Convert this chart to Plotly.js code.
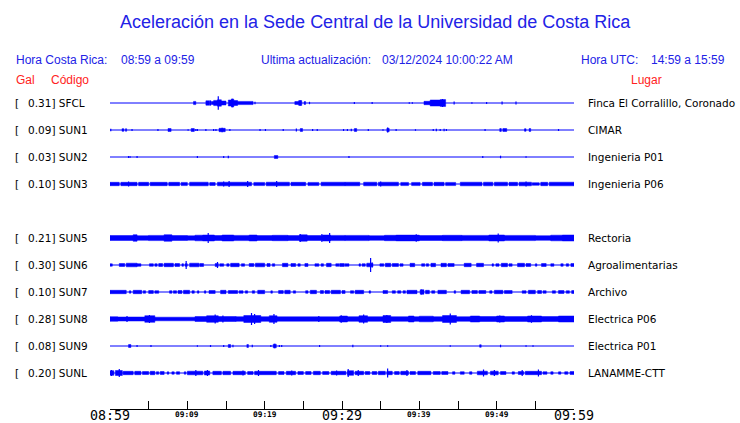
<!DOCTYPE html>
<html>
<head>
<meta charset="utf-8">
<script src="https://cdn.plot.ly/plotly-3.0.1.min.js"></script>
<style>html,body{margin:0;padding:0;background:#fff;}#chart{width:740px;height:423px;}</style>
</head>
<body>
<div id="chart"></div>
<script>
// ---------- data ----------
const STATIONS = ['SFCL','SUN1','SUN2','SUN3','SUN5','SUN6','SUN7','SUN8','SUN9','SUNL'];
const ROWS     = [0,1,2,3,5,6,7,8,9,10];
const GAL      = ['0.31','0.09','0.03','0.10','0.21','0.30','0.10','0.28','0.08','0.20'];
const PLACES   = ['Finca El Corralillo, Coronado','CIMAR','Ingenieria P01','Ingenieria P06','Rectoria',
                  'Agroalimentarias','Archivo','Electrica P06','Electrica P01','LANAMME-CTT'];
const TICK_MIN  = [0,5,10,15,20,25,30,35,40,45,50,55,60];
const TICK_TEXT = ['08:59','','09:09','','09:19','','09:29','','09:39','','09:49','','09:59'];
const TICK_MAJOR = ['08:59','09:29','09:59'];

// blocks: [start minute, end minute, half amplitude]; spikes: [minute, half amplitude]
const SFCL_BLOCKS = [[10.8,11.1,1.6],[12.4,12.9,2.2],[13.1,13.4,1.5],[13.4,13.9,2.6],[13.9,14.4,3.2],[14.4,15.0,2.0],[15.3,15.7,3.0],[15.7,16.0,4.0],[16.0,16.5,2.5],[16.5,18.5,1.6],[23.9,24.4,1.5],[24.4,24.8,2.4],[25.1,25.3,1.4],[40.6,41.4,1.7],[41.4,42.7,3.0],[42.7,43.4,3.4]];
const SFCL_SPIKES = [[14.0,6.7],[13.0,2.6],[15.8,4.2],[18.75,1.3],[24.6,2.6],[25.8,1.2],[31.6,1.0],[33.9,1.0],[38.7,0.8],[39.1,0.8],[43.0,4.0],[44.5,1.4],[46.8,0.8],[48.7,1.0],[50.7,1.4],[52.5,1.4]];

const SUN1_BLOCKS = [[1.55,1.8,1.3],[2.0,2.15,1.3],[7.5,7.9,1.5],[10.5,10.9,1.5],[14.1,14.9,1.7],[24.6,24.9,1.5],[31.6,31.9,1.5],[35.8,36.1,1.7],[50.4,50.6,1.5],[50.8,51.3,1.5],[53.6,53.8,1.3],[54.2,54.4,1.5]];
const SUN1_SPIKES = [[0.1,1.3],[2.85,1.0],[6.2,1.0],[10.1,0.8],[11.1,1.0],[11.3,1.0],[12.4,1.0],[13.4,1.0],[13.7,1.0],[14.5,2.3],[15.5,1.0],[19.4,1.0],[20.1,1.0],[22.4,1.0],[24.1,1.5],[26.2,1.0],[26.8,1.0],[30.2,1.0],[30.7,1.0],[31.2,1.3],[33.4,1.0],[35.3,0.8],[35.9,2.4],[37.0,1.0],[39.5,0.8],[41.8,1.0],[42.2,1.3],[42.7,1.0],[43.2,1.3],[43.5,1.0],[48.5,1.0],[58.0,1.0]];

const SUN2_BLOCKS = [[21.25,21.7,1.5]];
const SUN2_SPIKES = [[2.4,1.0],[2.6,0.7],[3.5,1.0],[11.3,1.0],[14.7,1.0],[15.3,1.3],[30.9,1.0],[48.2,1.0],[50.5,1.3],[53.8,0.8]];

const SUN3_BLOCKS = [[0,1.2,1.7],[1.4,3.5,1.7],[3.7,5.0,1.7],[5.2,7.4,1.7],[7.6,9.0,1.7],[9.2,10.0,1.6],[10.3,12.7,1.8],[12.9,13.6,1.5],[13.9,18.3,1.8],[18.6,20.0,1.6],[20.2,23.2,1.8],[23.4,25.3,1.7],[25.6,27.0,1.6],[27.3,30.4,1.8],[30.4,32.3,1.8],[32.8,34.5,1.8],[34.7,37.3,1.8],[37.6,38.6,1.6],[39.0,40.1,1.6],[40.4,41.7,1.7],[41.9,43.2,1.7],[43.4,44.7,1.6],[45.3,48.1,1.8],[48.3,49.5,1.8],[49.7,51.4,1.8],[51.6,52.7,1.7],[52.9,54.5,1.8],[54.6,55.5,1.3],[55.7,56.6,1.7],[56.8,60,1.8]];
const SUN3_SPIKES = [[2.4,2.5],[14.7,2.5],[15.4,3.0],[17.8,3.0],[21.55,3.0],[35.0,2.5],[53.8,2.5]];

const SUN5_BLOCKS = [[0,3.0,2.5],[3.0,3.5,3.3],[3.5,5.0,2.3],[5.0,7.0,2.6],[7.0,8.0,3.3],[8.0,10.0,2.5],[10.0,11.0,2.2],[11.0,12.0,2.8],[12.0,13.5,3.0],[13.5,14.5,2.5],[14.5,16.0,3.0],[16.0,18.0,2.6],[18.0,19.0,3.0],[19.0,21.0,2.4],[21.0,23.0,2.7],[23.0,24.5,2.4],[24.5,25.5,3.2],[25.5,27.5,2.5],[27.5,28.5,3.0],[28.5,30.4,2.6],[30.4,33.5,2.6],[33.5,35.5,2.3],[35.5,37.0,2.7],[37.0,40.0,2.9],[40.0,43.0,2.5],[43.0,45.5,2.7],[45.5,49.0,2.6],[49.0,51.0,3.0],[51.0,55.0,2.6],[55.0,57.0,2.3],[57.0,58.5,2.8],[58.5,60,3.0]];
const SUN5_SPIKES = [[12.7,5.0],[24.6,4.0],[27.4,4.0],[28.4,5.0],[39.6,3.7],[50.2,4.5]];

const SUN6_BLOCKS = [[0,0.3,1.2],[1.2,1.9,1.5],[2.1,3.5,1.8],[3.5,4.0,1.3],[5.1,5.6,1.3],[5.8,6.1,1.3],[6.3,6.8,1.5],[7.0,8.2,1.7],[8.4,9.0,1.5],[9.3,9.5,1.3],[9.7,10.0,1.3],[10.3,11.5,1.8],[11.6,12.1,1.5],[13.6,14.0,1.5],[14.2,14.7,1.3],[15.1,15.4,1.3],[15.6,16.7,1.7],[17.0,17.4,1.3],[18.0,18.6,1.5],[18.8,20.0,1.8],[20.3,20.7,1.5],[21.0,21.3,1.3],[22.3,23.0,1.7],[23.4,24.0,1.5],[24.3,24.6,1.3],[25.2,25.6,1.5],[26.5,27.0,1.3],[27.3,27.6,1.3],[28.0,28.6,1.7],[29.2,29.6,1.3],[29.7,30.3,1.5],[30.4,30.9,1.3],[32.2,32.4,1.2],[32.6,33.0,1.3],[33.2,34.0,1.8],[34.9,35.4,1.3],[35.6,36.3,1.7],[36.5,37.3,1.5],[37.5,37.9,1.3],[38.8,39.4,1.7],[40.3,40.7,1.3],[40.9,41.2,1.3],[41.5,42.1,1.7],[42.8,43.5,1.7],[43.7,44.5,1.5],[45.8,46.7,1.7],[47.4,48.3,1.7],[49.4,49.6,1.2],[49.9,50.3,1.3],[50.6,51.4,1.7],[51.6,52.0,1.3],[52.7,53.6,1.7],[53.8,54.4,1.5],[55.0,55.2,1.2],[55.8,56.4,1.5],[57.0,57.4,1.3],[58.3,58.6,1.3],[59.0,59.3,1.3],[59.6,60,1.5]];
const SUN6_SPIKES = [[9.85,4.0],[13.9,3.0],[33.7,7.0],[33.9,2.5]];

const SUN7_BLOCKS = [[0,2.1,1.7],[2.5,2.7,1.2],[3.0,4.1,1.7],[4.3,4.6,1.3],[5.0,5.6,1.5],[5.8,6.3,1.3],[7.7,8.0,1.3],[8.2,8.6,1.3],[8.8,9.3,1.5],[9.5,10.3,1.7],[10.6,10.9,1.3],[11.3,11.5,1.2],[12.2,12.4,1.2],[12.8,13.6,1.5],[14.3,15.0,1.7],[15.3,16.5,1.5],[16.7,17.2,1.3],[17.5,17.8,1.2],[18.4,18.7,1.3],[19.1,20.0,1.7],[20.8,21.0,1.2],[21.8,22.4,1.5],[22.6,23.3,1.7],[23.7,24.0,1.2],[25.3,25.6,1.3],[25.9,26.7,1.7],[27.2,27.6,1.5],[27.8,28.4,1.5],[28.6,29.8,1.7],[30.0,30.4,1.5],[31.1,31.5,1.3],[31.7,32.8,1.7],[33.5,33.7,1.2],[35.3,35.9,1.5],[36.5,36.9,1.3],[37.2,37.6,1.3],[37.9,38.2,1.3],[38.4,39.7,1.7],[40.1,40.6,2.2],[40.8,41.3,1.7],[41.6,42.0,1.3],[42.4,43.5,1.7],[44.5,44.7,1.3],[45.4,46.5,1.7],[46.8,47.5,1.5],[47.7,48.6,1.5],[49.1,49.4,1.3],[49.7,50.8,1.7],[51.0,52.0,1.5],[53.3,53.8,1.3],[54.1,55.0,1.7],[55.3,55.8,1.5],[56.0,56.4,1.3],[57.2,57.6,1.3],[58.0,58.7,1.5],[59.0,59.4,1.3],[59.7,60,1.5]];
const SUN7_SPIKES = [[40.3,2.6]];

const SUN8_BLOCKS = [[0,1.0,2.3],[1.0,4.5,2.0],[4.5,5.8,3.3],[5.8,11.0,1.8],[11.0,12.5,2.5],[12.5,14.0,3.3],[14.0,16.3,2.5],[16.3,17.3,2.3],[17.3,19.5,3.5],[19.5,20.6,2.3],[20.6,21.6,3.3],[21.6,29.7,2.2],[29.7,30.7,3.0],[30.7,32.2,2.3],[32.2,33.3,3.3],[33.3,35.3,2.3],[35.3,36.3,3.5],[36.3,38.6,2.3],[38.6,39.3,3.0],[39.3,40.0,2.3],[40.0,41.8,2.8],[41.8,43.0,2.3],[43.0,44.8,3.5],[44.8,46.6,2.3],[46.6,47.8,3.0],[47.8,50.0,2.5],[50.0,51.0,3.0],[51.0,54.0,2.4],[54.0,55.8,3.0],[55.8,58.0,2.5],[58.0,60,3.0]];
const SUN8_SPIKES = [[2.2,3.0],[5.1,4.0],[13.6,4.5],[14.6,3.5],[18.3,6.0],[18.7,5.0],[21.2,5.0],[27.0,3.0],[29.9,3.8],[32.8,4.5],[35.8,4.0],[44.0,5.5],[50.4,3.5],[54.5,3.8]];

const SUN9_BLOCKS = [[2.4,2.7,1.5],[15.3,15.6,1.5],[17.7,17.9,1.5],[21.1,21.5,1.8],[47.8,48.0,1.3]];
const SUN9_SPIKES = [[3.5,1.0],[5.3,1.0],[11.3,0.8],[13.0,1.0],[14.7,1.0],[15.9,1.3],[18.4,1.3],[20.8,1.0],[21.3,2.2],[21.9,1.0],[22.2,1.0],[27.1,1.0],[31.4,1.3],[35.0,0.8],[35.9,0.8],[44.0,0.8],[50.5,1.3],[53.8,0.8],[54.7,0.8]];

const SUNL_BLOCKS = [[0,0.5,2.3],[0.7,1.6,2.5],[1.7,3.0,1.7],[3.2,4.0,1.7],[4.2,5.0,1.5],[5.2,5.8,1.7],[6.0,6.3,1.3],[6.5,7.0,1.5],[7.4,7.6,1.2],[8.0,8.3,1.2],[8.6,9.0,1.3],[9.6,9.8,1.2],[10.0,12.0,1.8],[12.2,12.9,2.0],[13.3,14.4,1.7],[14.6,15.6,1.7],[15.9,17.5,1.7],[17.8,18.5,1.5],[18.7,21.5,1.7],[21.8,22.5,1.5],[22.8,24.0,1.7],[24.3,25.0,1.5],[25.3,26.0,1.5],[26.3,27.2,1.7],[27.5,28.3,1.5],[28.6,30.5,1.7],[30.7,31.5,2.3],[31.7,32.8,1.7],[33.0,33.6,1.5],[33.9,34.5,1.5],[34.7,35.6,1.7],[35.8,36.5,1.7],[36.8,37.4,1.5],[37.6,38.6,1.7],[38.8,39.5,1.5],[39.8,41.5,1.7],[41.8,42.7,1.5],[42.9,43.7,1.5],[44.3,44.6,1.3],[45.3,45.8,1.3],[46.5,46.8,1.3],[47.5,48.8,1.8],[49.2,50.2,1.8],[50.5,51.2,1.5],[52.0,52.3,1.2],[52.8,53.5,1.5],[53.7,55.8,1.7],[56.0,56.5,1.3],[57.0,57.3,1.3],[58.0,58.3,1.2],[58.8,59.2,1.3],[59.5,60,1.5]];
const SUNL_SPIKES = [[0.2,3.0],[1.2,4.0],[11.1,3.0],[12.6,3.0],[17.2,2.5],[19.2,3.0],[23.5,2.5],[29.3,2.5],[30.8,4.0],[32.1,3.0],[35.9,4.5],[38.4,3.0],[48.3,3.5],[49.7,3.0],[53.3,3.0],[55.4,3.5]];

const BLOCKS = [SFCL_BLOCKS,SUN1_BLOCKS,SUN2_BLOCKS,SUN3_BLOCKS,SUN5_BLOCKS,SUN6_BLOCKS,SUN7_BLOCKS,SUN8_BLOCKS,SUN9_BLOCKS,SUNL_BLOCKS];
const SPIKES = [SFCL_SPIKES,SUN1_SPIKES,SUN2_SPIKES,SUN3_SPIKES,SUN5_SPIKES,SUN6_SPIKES,SUN7_SPIKES,SUN8_SPIKES,SUN9_SPIKES,SUNL_SPIKES];

// ---------- styling / layout constants ----------
const ROW_STEP = 27;
const TRACE_BLUE = '#0000ff';
const TEXT_BLUE = '#2222e6';
const TEXT_RED = '#ff2222';
const W = 740, H = 423, ML = 110, MR = 166, MT = 90, MB = 14;
const PW = W - ML - MR, PH = H - MT - MB;
const px2x = p => (p - ML) / PW;
const py2y = p => (H - MB - p) / PH;

const traces = [];
STATIONS.forEach((s, i) => {
  const c = -ROWS[i] * ROW_STEP;
  traces.push({x:[TICK_MIN[0], TICK_MIN[TICK_MIN.length-1]], y:[c, c], mode:'lines',
    line:{color:TRACE_BLUE, width:1}, hoverinfo:'skip', showlegend:false});
  const bx = [], by = [];
  BLOCKS[i].forEach(([t0, t1, a]) => {
    bx.push(t0, t1, t1, t0, t0, null);
    by.push(c - a, c - a, c + a, c + a, c - a, null);
  });
  traces.push({x:bx, y:by, mode:'lines', fill:'toself', fillcolor:TRACE_BLUE,
    line:{color:TRACE_BLUE, width:0.5}, hoverinfo:'skip', showlegend:false});
  const sx = [], sy = [];
  SPIKES[i].forEach(([t, a]) => { sx.push(t, t, null); sy.push(c - a, c + a, null); });
  traces.push({x:sx, y:sy, mode:'lines', line:{color:TRACE_BLUE, width:1.2},
    hoverinfo:'skip', showlegend:false});
});

const SANS = 'Liberation Sans, Arial, sans-serif';
const DJ = 'DejaVu Sans, sans-serif';
const MONO = 'DejaVu Sans Mono, monospace';
function ann(text, px, py, font, anchor) {
  return {text, x:px2x(px), y:py2y(py), xref:'paper', yref:'paper', showarrow:false,
    xanchor:anchor || 'left', yanchor:'middle', font, borderpad:0};
}
const hdr = {family:SANS, size:12, color:TEXT_BLUE};
const red = {family:SANS, size:12, color:TEXT_RED};
const annotations = [
  ann('Aceleración en la Sede Central de la Universidad de Costa Rica', 375, 22, {family:SANS, size:18, color:TEXT_BLUE}, 'center'),
  ann('Hora Costa Rica:', 15, 60, hdr),
  ann('08:59 a 09:59', 120, 60, hdr),
  ann('Ultima actualización:', 260, 60, hdr),
  ann('03/12/2024 10:00:22 AM', 381, 60, hdr),
  ann('Hora UTC:', 580, 60, hdr),
  ann('14:59 a 15:59', 650, 60, hdr),
  ann('Gal', 15, 80, red),
  ann('Código', 50, 80, red),
  ann('Lugar', 630, 80, red)
];
STATIONS.forEach((s, i) => {
  const c = -ROWS[i] * ROW_STEP;
  const f = {family:DJ, size:10.5, color:'#000'};
  annotations.push({text:'[', x:px2x(14), y:c, xref:'paper', yref:'y', showarrow:false, xanchor:'left', yanchor:'middle', font:f, borderpad:0});
  annotations.push({text:GAL[i] + '] ' + s, x:px2x(27), y:c, xref:'paper', yref:'y', showarrow:false, xanchor:'left', yanchor:'middle', font:f, borderpad:0});
  annotations.push({text:PLACES[i], x:px2x(587), y:c, xref:'paper', yref:'y', showarrow:false, xanchor:'left', yanchor:'middle', font:f, borderpad:0});
});
// time-axis labels placed on the x axis scale
TICK_MIN.forEach((m, k) => {
  const t = TICK_TEXT[k];
  if (!t) return;
  const major = TICK_MAJOR.includes(t);
  annotations.push({text: major ? t : '<b>' + t + '</b>', x:m, xref:'x', y:py2y(major ? 415.5 : 414.5), yref:'paper',
    showarrow:false, xanchor:'center', yanchor:'middle', borderpad:0,
    font:{family:MONO, size: major ? 13.3 : 7.8, color:'#000'}});
});

const layout = {
  width:W, height:H, margin:{l:ML, r:MR, t:MT, b:MB, pad:0},
  paper_bgcolor:'#fff', plot_bgcolor:'#fff', showlegend:false, hovermode:false,
  xaxis:{range:[TICK_MIN[0], TICK_MIN[TICK_MIN.length-1]], showgrid:false, zeroline:false,
    showline:true, linecolor:'#000', linewidth:1, ticks:'inside', ticklen:8, tickwidth:1,
    tickcolor:'#000', tickmode:'array', tickvals:TICK_MIN, showticklabels:false,
    automargin:false, fixedrange:true},
  yaxis:{range:[-306, 13], visible:false, fixedrange:true, automargin:false},
  annotations
};
Plotly.newPlot('chart', traces, layout, {staticPlot:true, displayModeBar:false});
</script>
</body>
</html>
